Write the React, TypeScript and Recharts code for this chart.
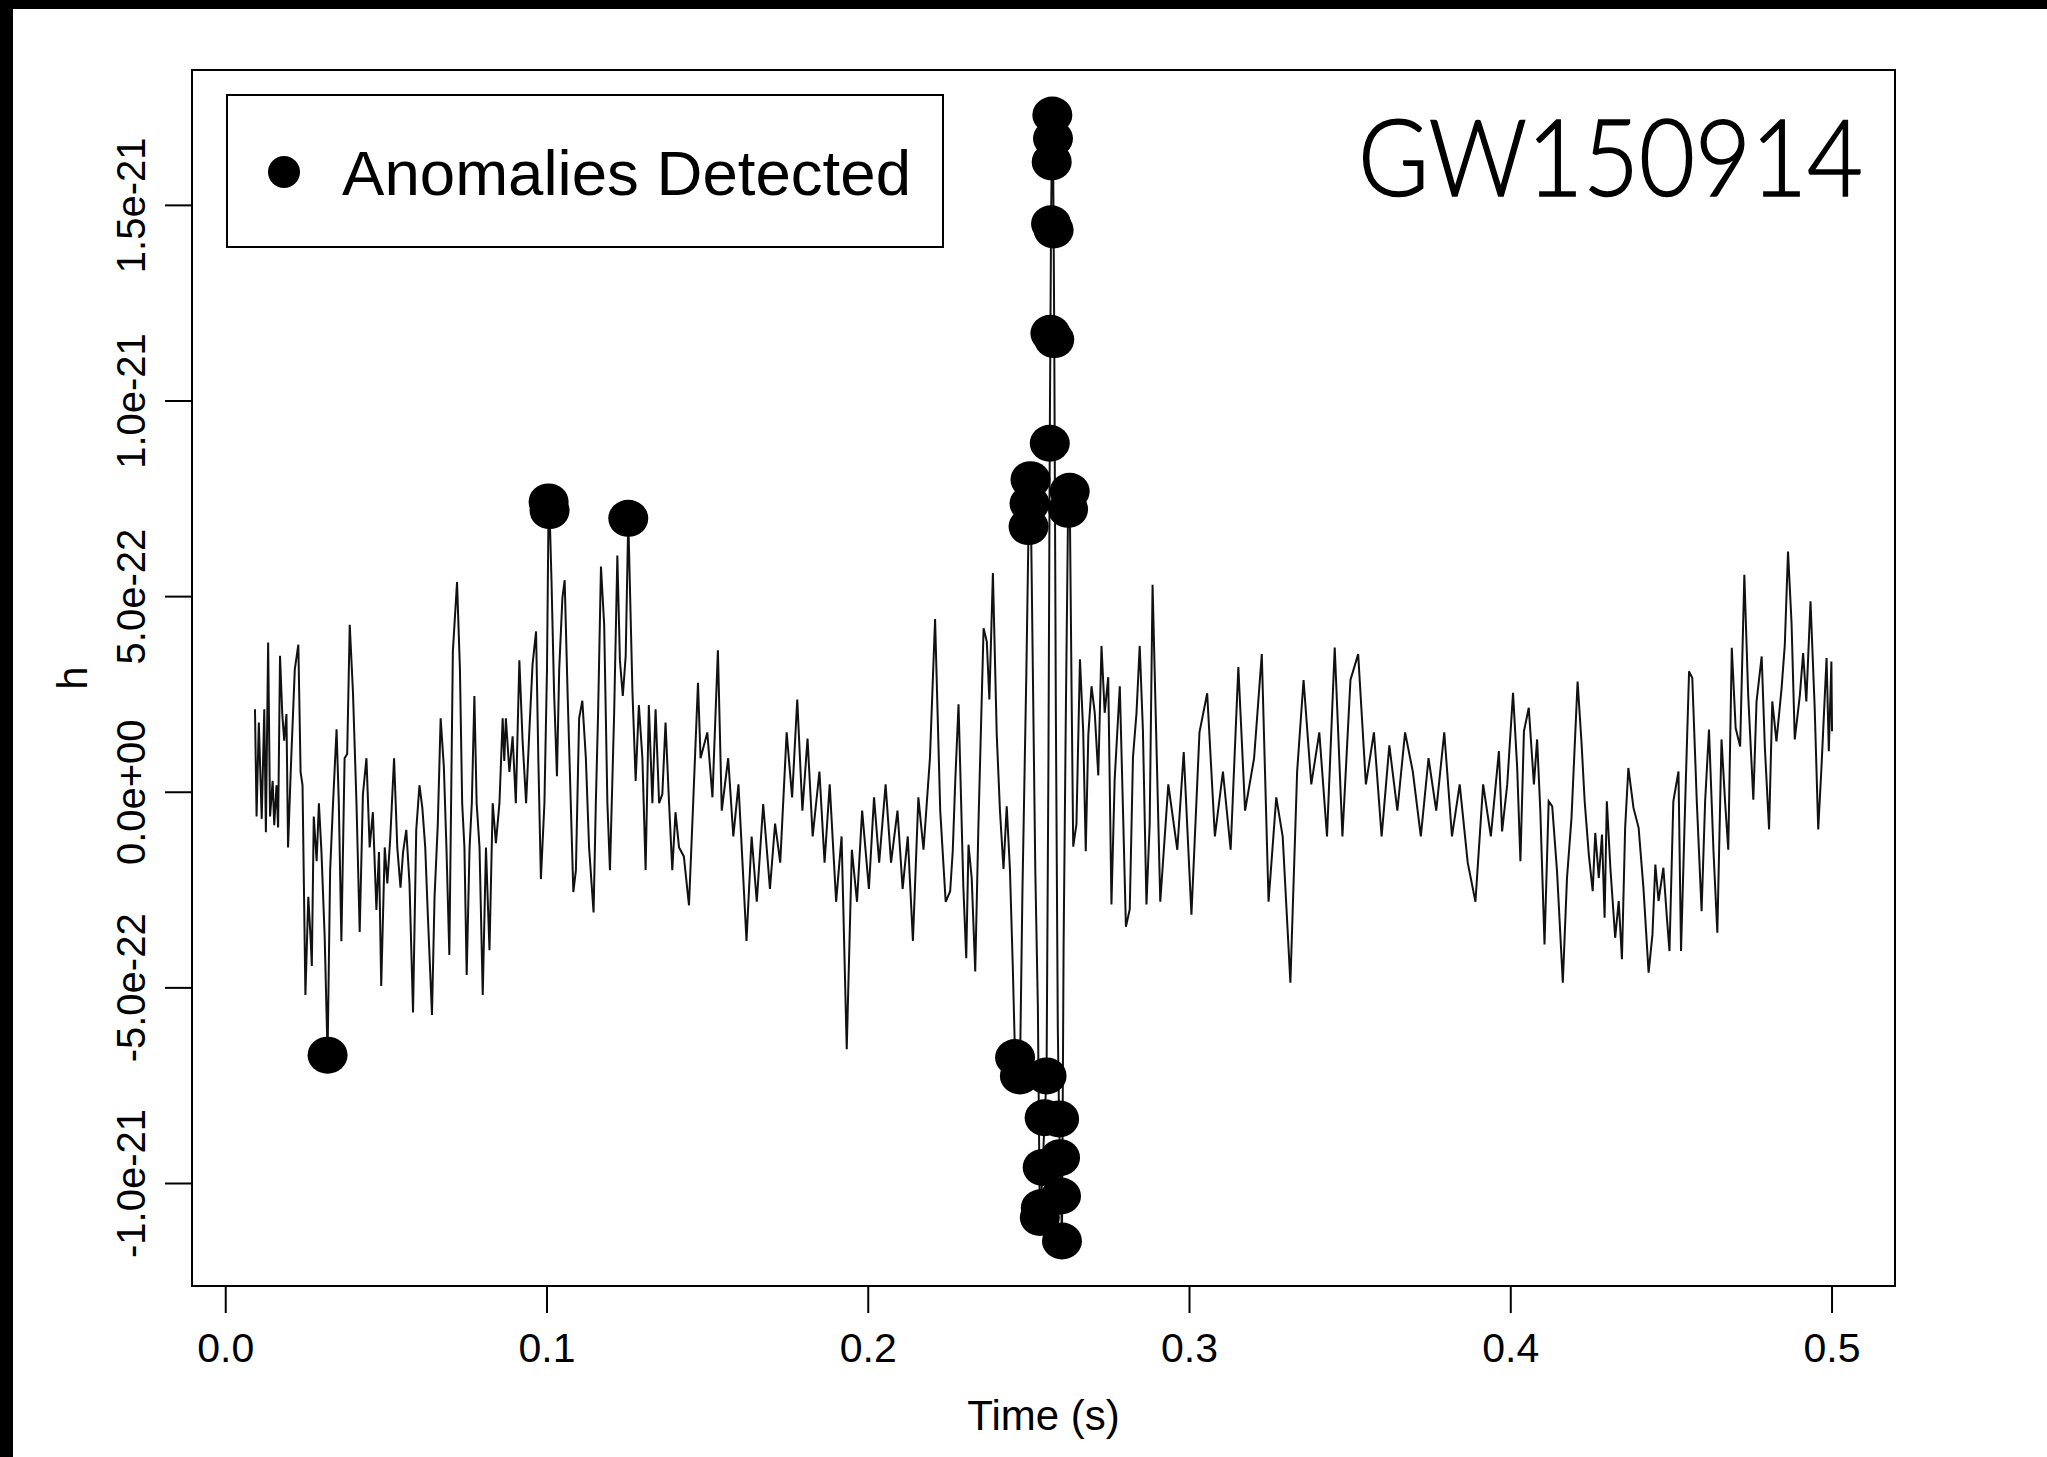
import React from 'react';
import { ComposedChart, Line, Scatter, XAxis, YAxis, ReferenceArea } from 'recharts';

// ---------- data (h in units of 1e-22) ----------
const lineT: number[] = [
  0.0091, 0.0096, 0.0103, 0.0112, 0.0120, 0.0125, 0.0132, 0.0138, 0.0146, 0.0151, 0.0158, 0.0163, 0.0169, 0.0176, 0.0182, 0.0189,
  0.0194, 0.0203, 0.0215, 0.0226, 0.0233, 0.0239, 0.0248, 0.0257, 0.0264, 0.0268, 0.0274, 0.0283, 0.0290, 0.0298, 0.0308, 0.0317,
  0.0325, 0.0334, 0.0345, 0.0352, 0.0360, 0.0370, 0.0378, 0.0386, 0.0396, 0.0407, 0.0417, 0.0427, 0.0438, 0.0448, 0.0458, 0.0469,
  0.0477, 0.0484, 0.0495, 0.0503, 0.0512, 0.0524, 0.0534, 0.0544, 0.0552, 0.0562, 0.0572, 0.0583, 0.0593, 0.0603, 0.0612, 0.0621,
  0.0629, 0.0642, 0.0650, 0.0660, 0.0669, 0.0679, 0.0687, 0.0696, 0.0707, 0.0720, 0.0729, 0.0736, 0.0743, 0.0750, 0.0759, 0.0766,
  0.0774, 0.0781, 0.0790, 0.0800, 0.0810, 0.0821, 0.0831, 0.0841, 0.0852, 0.0862, 0.0867, 0.0872, 0.0883, 0.0893, 0.0903, 0.0914,
  0.0924, 0.0935, 0.0945, 0.0955, 0.0966, 0.0973, 0.0981, 0.0992, 0.1000, 0.1005, 0.1008, 0.1014, 0.1022, 0.1031, 0.1038, 0.1048,
  0.1055, 0.1064, 0.1074, 0.1082, 0.1090, 0.1100, 0.1110, 0.1121, 0.1131, 0.1145, 0.1152, 0.1159, 0.1168, 0.1178, 0.1188, 0.1196,
  0.1209, 0.1219, 0.1227, 0.1236, 0.1245, 0.1253, 0.1266, 0.1276, 0.1286, 0.1297, 0.1307, 0.1317, 0.1328, 0.1338, 0.1349, 0.1359,
  0.1369, 0.1380, 0.1390, 0.1400, 0.1411, 0.1426, 0.1442, 0.1455, 0.1470, 0.1478,
  0.1499, 0.1515, 0.1532, 0.1544, 0.1564, 0.1580, 0.1596, 0.1621, 0.1637, 0.1653, 0.1673, 0.1694, 0.1710, 0.1726, 0.1746, 0.1763,
  0.1779, 0.1795, 0.1811, 0.1827, 0.1848, 0.1864, 0.1880, 0.1900, 0.1917, 0.1933, 0.1949, 0.1965, 0.1981, 0.2002, 0.2018, 0.2034,
  0.2054, 0.2071, 0.2091, 0.2107, 0.2123, 0.2139, 0.2156, 0.2172, 0.2192, 0.2208, 0.2224, 0.2241,
  0.2255, 0.2263, 0.2271, 0.2281, 0.2288, 0.2296, 0.2305, 0.2312, 0.2322, 0.2333, 0.2343, 0.2359, 0.2369, 0.2377, 0.2388, 0.2400,
  0.2410, 0.2421, 0.2431, 0.2441,
  0.2450, 0.2457, 0.2472, 0.2480, 0.2492, 0.2499, 0.2502, 0.2505, 0.2511, 0.2520, 0.2528, 0.2534, 0.2537, 0.2543, 0.2549, 0.2555,
  0.2561, 0.2565, 0.2567, 0.2569, 0.2571, 0.2573, 0.2575, 0.2577, 0.2579, 0.2584, 0.2590, 0.2594, 0.2597, 0.2600, 0.2603, 0.2608,
  0.2615, 0.2622, 0.2627, 0.2633, 0.2638,
  0.2648, 0.2659, 0.2669, 0.2677, 0.2685, 0.2695, 0.2705, 0.2716, 0.2726, 0.2736, 0.2747, 0.2757, 0.2767, 0.2783, 0.2793, 0.2802,
  0.2814, 0.2824, 0.2835, 0.2845, 0.2855, 0.2866, 0.2876,
  0.2885, 0.2909, 0.2934, 0.2962, 0.2982, 0.3006, 0.3031, 0.3055, 0.3079, 0.3104, 0.3128, 0.3152, 0.3173, 0.3201, 0.3225, 0.3246,
  0.3270, 0.3290, 0.3314, 0.3335, 0.3355, 0.3379, 0.3404, 0.3428, 0.3452, 0.3476, 0.3501, 0.3525, 0.3549, 0.3574, 0.3598, 0.3622,
  0.3647, 0.3671, 0.3695, 0.3720, 0.3744, 0.3768, 0.3793, 0.3817, 0.3841, 0.3866, 0.3890, 0.3914, 0.3938,
  0.3963, 0.3973, 0.3989, 0.4007, 0.4020, 0.4030, 0.4041, 0.4056, 0.4072, 0.4082, 0.4092, 0.4105, 0.4118, 0.4129, 0.4144, 0.4162,
  0.4175, 0.4189, 0.4208, 0.4220, 0.4230, 0.4243, 0.4255, 0.4263, 0.4274, 0.4284, 0.4292, 0.4299, 0.4310, 0.4325, 0.4336, 0.4346,
  0.4356, 0.4366, 0.4382, 0.4398, 0.4413, 0.4429, 0.4441, 0.4450, 0.4460, 0.4475, 0.4486, 0.4494, 0.4506, 0.4522, 0.4530, 0.4543,
  0.4555, 0.4565, 0.4579, 0.4594, 0.4605, 0.4617, 0.4631, 0.4643, 0.4656, 0.4667, 0.4677, 0.4688, 0.4700, 0.4714, 0.4727, 0.4739,
  0.4755, 0.4765, 0.4781, 0.4791, 0.4804, 0.4814, 0.4827, 0.4843, 0.4853, 0.4863, 0.4874, 0.4884, 0.4900, 0.4910, 0.4920, 0.4933,
  0.4946, 0.4957, 0.4967, 0.4983, 0.4990, 0.4998, 0.5000,
];

const lineH: number[] = [
  2.12, -0.62, 1.78, -0.68, 2.12, -1.02, 3.83, -0.62, 0.29, -0.84, 0.18, -0.90, 3.49, 2.00, 1.32, 2.00,
  -1.41, 0.69, 3.14, 3.77, 0.52, 0.18, -5.18, -2.67, -3.70, -4.44, -0.62, -1.76, -0.28, -1.53, -3.70, -6.72,
  -1.99, -0.28, 1.61, -0.28, -3.81, 0.87, 0.98, 4.28, 2.57, -0.28, -3.57, -0.05, 0.87, -1.41, -0.51, -3.01,
  -1.53, -4.95, -1.41, -2.33, -1.19, 0.87, -1.41, -2.44, -1.53, -0.96, -2.33, -5.63, -0.96, 0.18, -0.40, -1.41,
  -3.12, -5.69, -2.67, -0.84, 1.89, 0.64, -1.41, -4.16, 3.60, 5.37, 3.14, -0.28, -1.41, -4.67, -1.41, -0.28,
  2.46, -0.28, -1.41, -5.18, -1.41, -4.04, -0.28, -1.30, -0.28, 1.89, 0.80, 1.89, 0.52, 1.43, -0.28, 3.37,
  1.32, -0.28, 1.55, 3.26, 4.11, 0.87, -2.22, -0.28, 3.14, 7.42, 7.20, 5.42, 2.57, 0.41, 3.14, 4.97,
  5.42, 2.57, -0.28, -2.55, -1.99, 1.89, 2.34, 0.87, -1.41, -3.07, -0.28, 2.00, 5.77, 4.28, -0.28, -1.99,
  2.00, 6.05, 3.37, 2.46, 3.49, 7.00, 2.57, 0.29, 2.23, 0.87, -1.99, 2.23, -0.28, 2.12, -0.28, -0.05,
  1.78, -0.28, -1.99, -0.51, -1.41, -1.64, -2.89, -0.28, 2.80, 0.87,
  1.53, -0.13, 3.63, -0.47, 0.87, -1.13, 0.20, -3.80, -1.13, -2.80, -0.30, -2.47, -0.80, -1.80, 1.53, -0.13,
  2.37, -0.47, 1.37, -1.13, 0.53, -1.80, 0.20, -2.80, -1.13, -6.57, -1.47, -2.80, -0.47, -2.47, -0.13, -1.80,
  0.20, -1.80, -0.47, -2.47, -1.13, -3.80, -0.13, -1.47, 0.87, 4.43, -0.47, -2.80,
  -2.53, -1.51, 0.32, 2.25, 0.09, -2.42, -4.24, -1.34, -2.19, -4.58, -0.82, 4.19, 3.85, 2.37, 5.60, 1.46,
  -0.48, -1.96, -0.36, -1.96,
  -4.50, -6.78, -7.25, -2.50, 3.00, 6.79, 7.38, 7.99, 4.00, -2.00, -5.50, -10.87, -10.62, -9.59, -8.32, -7.25,
  1.00, 8.92, 11.73, 14.53, 16.11, 17.31, 16.71, 14.37, 11.57, 2.00, -6.00, -8.35, -9.34, -10.32, -11.47, -4.00,
  2.00, 7.23, 7.69, 2.50, -1.39,
  -0.82, 3.40, 1.57, -1.51, 1.46, 2.71, 2.03, 0.43, 3.74, 2.03, 2.94, -2.87, 0.32, 2.71, -0.48, -3.44,
  -2.99, 0.89, 2.03, 3.74, 1.57, -2.87, -0.82,
  5.30, -2.80, 0.20, -1.47, 1.03, -3.13, 1.53, 2.53, -1.13, 0.53, -1.47, 3.20, -0.47, 0.87, 3.53, -2.80,
  -0.13, -1.13, -4.87, 0.53, 2.87, 0.20, 1.53, -1.13, 3.70, -1.13, 2.87, 3.53, 0.20, 1.53, -1.13, 1.20,
  -0.47, 1.53, 0.53, -1.13, 0.87, -0.47, 1.53, -1.13, 0.20, -1.80, -2.80, 0.20, -1.13,
  1.05, -1.00, 0.20, 2.54, 0.62, -1.76, 1.56, 2.16, 0.20, 1.35, -0.48, -3.89, -0.23, -0.36, -2.02, -4.87,
  -2.19, -0.66, 2.83, 1.30, -0.23, -1.60, -2.53, -1.04, -2.19, -1.08, -3.21, -0.23, -1.93, -3.72, -2.78, -4.27,
  -0.91, 0.62, -0.40, -0.91, -2.45, -4.61, -3.64, -1.85, -2.78, -1.93, -3.21, -4.06, -0.23, 0.53, -4.06, -0.23,
  3.09, 2.92, -0.23, -3.04, -0.23, 1.60, -1.51, -3.59, 1.35, -0.23, -1.47, 3.69, 1.64, 1.17, 5.56, 2.49,
  -0.19, 2.32, 3.47, 1.13, -0.95, 2.32, 1.30, 2.66, 3.77, 6.15, 4.32, 1.35, 2.49, 3.56, 2.32, 4.88,
  2.16, -0.95, 0.62, 3.43, 1.05, 3.34, 1.56,
];

const anomT: number[] = [
  0.0317, 0.1005, 0.1008, 0.1253, 0.2457, 0.2472, 0.2499, 0.2502, 0.2505, 0.2534, 0.2537, 0.2543, 0.2549, 0.2555,
  0.2565, 0.2567, 0.2569, 0.2571, 0.2573, 0.2575, 0.2577, 0.2579, 0.2594, 0.2597, 0.2600, 0.2603, 0.2622, 0.2627,
];
const anomH: number[] = [
  -6.72, 7.42, 7.20, 7.00, -6.78, -7.25, 6.79, 7.38, 7.99, -10.87, -10.62, -9.59, -8.32, -7.25,
  8.92, 11.73, 14.53, 16.11, 17.31, 16.71, 14.37, 11.57, -8.35, -9.34, -10.32, -11.47, 7.23, 7.69,
];

const xTicks: number[] = [0, 0.1, 0.2, 0.3, 0.4, 0.5];
const xTickLabels: string[] = ['0.0', '0.1', '0.2', '0.3', '0.4', '0.5'];
const yTicks: number[] = [-10, -5, 0, 5, 10, 15];
const yTickLabels: string[] = ['-1.0e-21', '-5.0e-22', '0.0e+00', '5.0e-22', '1.0e-21', '1.5e-21'];

const X_DOMAIN: [number, number] = [-0.0105, 0.5196];
const Y_DOMAIN: [number, number] = [-12.62, 18.46];

const lineData = lineT.map((t, i) => ({ t, h: lineH[i] }));
const anomData = anomT.map((t, i) => ({ t, h: anomH[i] }));

// ---------- layout ----------
const W = 2047;
const H = 1457;
const PLOT_LEFT = 192;
const PLOT_TOP = 70;
const PLOT_RIGHT = 1895;
const PLOT_BOTTOM = 1286;
const Y_AXIS_W = 100;
const X_AXIS_H = 100;
const FONT = '"Liberation Sans", Arial, Helvetica, sans-serif';

const XTick = (props: any) => {
  const { x, payload } = props;
  const i = xTicks.findIndex((v) => Math.abs(v - payload.value) < 1e-9);
  return (
    <text x={x} y={PLOT_BOTTOM + 76} textAnchor="middle" fontSize={41} fontFamily={FONT} fill="#000">
      {i >= 0 ? xTickLabels[i] : ''}
    </text>
  );
};

const YTick = (props: any) => {
  const { y, payload } = props;
  const i = yTicks.findIndex((v) => Math.abs(v - payload.value) < 1e-9);
  return (
    <text transform={`translate(145, ${y}) rotate(-90)`} textAnchor="middle" fontSize={40} fontFamily={FONT} fill="#000">
      {i >= 0 ? yTickLabels[i] : ''}
    </text>
  );
};

const AnomDot = (props: any) => {
  const { cx, cy } = props;
  if (cx == null || cy == null) return null;
  return <ellipse cx={cx} cy={cy} rx={20} ry={18.5} fill="#000" />;
};

export default function App() {
  return (
    <div style={{ position: 'absolute', left: 0, top: 0, width: W, height: H, background: '#fff', overflow: 'hidden' }}>
      <ComposedChart
        width={W}
        height={H}
        margin={{
          top: PLOT_TOP,
          right: W - PLOT_RIGHT,
          bottom: H - PLOT_BOTTOM - X_AXIS_H,
          left: PLOT_LEFT - Y_AXIS_W,
        }}
      >
        <XAxis
          type="number"
          dataKey="t"
          domain={X_DOMAIN}
          ticks={xTicks}
          interval={0}
          allowDataOverflow
          axisLine={false}
          tickLine={{ stroke: '#000', strokeWidth: 2 }}
          tickSize={27}
          tick={XTick}
          height={X_AXIS_H}
        />
        <YAxis
          type="number"
          dataKey="h"
          domain={Y_DOMAIN}
          ticks={yTicks}
          interval={0}
          allowDataOverflow
          axisLine={false}
          tickLine={{ stroke: '#000', strokeWidth: 2 }}
          tickSize={27}
          tick={YTick}
          width={Y_AXIS_W}
        />
        <ReferenceArea
          x1={X_DOMAIN[0]}
          x2={X_DOMAIN[1]}
          y1={Y_DOMAIN[0]}
          y2={Y_DOMAIN[1]}
          fill="none"
          fillOpacity={0}
          stroke="#000"
          strokeWidth={2}
          ifOverflow="visible"
        />
        <Line
          data={lineData}
          dataKey="h"
          type="linear"
          stroke="#111"
          strokeWidth={2}
          dot={false}
          activeDot={false}
          isAnimationActive={false}
        />
        <Scatter data={anomData} dataKey="h" shape={AnomDot} isAnimationActive={false} />
      </ComposedChart>

      <svg
        width={W}
        height={H}
        style={{ position: 'absolute', left: 0, top: 0, pointerEvents: 'none' }}
      >
        {/* legend */}
        <rect x={227} y={95} width={716} height={152} fill="#fff" stroke="#000" strokeWidth={2} />
        <circle cx={284} cy={172} r={16} fill="#000" />
        <text x={342} y={195} fontSize={63} fontFamily={FONT} fill="#000" textLength={569} lengthAdjust="spacingAndGlyphs">
          Anomalies Detected
        </text>
        {/* event label */}
        <text
          x={1358}
          y={196}
          fontSize={107}
          fontFamily='Lato, "Noto Sans", sans-serif'
          fontWeight={300}
          fill="#000"
          stroke="#000"
          strokeWidth={1.6}
          textLength={505}
          lengthAdjust="spacingAndGlyphs"
        >
          GW150914
        </text>
        {/* axis titles */}
        <text x={(PLOT_LEFT + PLOT_RIGHT) / 2} y={1430} textAnchor="middle" fontSize={42} fontFamily={FONT} fill="#000">
          Time (s)
        </text>
        <text
          transform={`translate(87, ${(PLOT_TOP + PLOT_BOTTOM) / 2}) rotate(-90)`}
          textAnchor="middle"
          fontSize={42}
          fontFamily={FONT}
          fill="#000"
        >
          h
        </text>
      </svg>

      {/* black frame edges */}
      <div style={{ position: 'absolute', left: 0, top: 0, width: W, height: 9, background: '#000' }} />
      <div style={{ position: 'absolute', left: 0, top: 0, width: 13, height: H, background: '#000' }} />
    </div>
  );
}
